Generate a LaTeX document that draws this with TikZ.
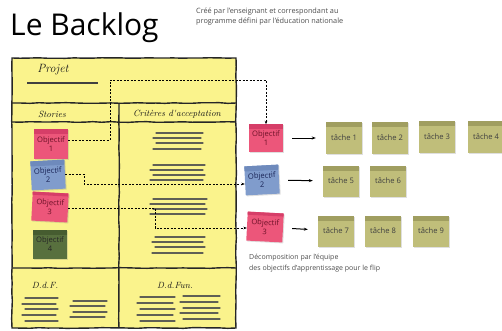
\documentclass[tikz,border=0pt]{standalone}
\usepackage{fontspec}
\setmainfont{Open Sans}
\newfontfamily\manuscrit{Latin Modern Roman}
\usetikzlibrary{arrows.meta,shadows,decorations.pathmorphing}

\definecolor{jaune}{RGB}{250,243,140}
\definecolor{rose}{RGB}{236,86,122}
\definecolor{rosefonce}{RGB}{214,62,104}
\definecolor{texterose}{RGB}{110,18,40}
\definecolor{bleu}{RGB}{128,156,204}
\definecolor{bleufonce}{RGB}{110,138,188}
\definecolor{textebleu}{RGB}{25,35,85}
\definecolor{vert}{RGB}{88,112,62}
\definecolor{vertfonce}{RGB}{70,92,48}
\definecolor{olive}{RGB}{192,190,122}
\definecolor{olivefonce}{RGB}{160,158,96}
\definecolor{trait}{RGB}{95,95,85}

\tikzset{
	postit/.style 2 args={fill=#1, minimum width=34pt, minimum height=29pt, inner sep=0pt,
		align=center, font=\fontsize{7.6}{9}\selectfont,
		drop shadow={shadow xshift=1pt, shadow yshift=-1pt, opacity=.25},
		path picture={\fill[#2] (path picture bounding box.north west) rectangle ([yshift=-5pt]path picture bounding box.north east);}},
	objrose/.style={postit={rose}{rosefonce}, text=texterose},
	objbleu/.style={postit={bleu}{bleufonce}, text=textebleu},
	objvert/.style={postit={vert}{vertfonce}, text=black!85},
	tache/.style={postit={olive}{olivefonce}, minimum width=36pt, minimum height=31pt, text=black!75},
	crayon/.style={black!85, line width=1.4pt, decorate, decoration={random steps, segment length=9pt, amplitude=.35pt}},
	ligne/.style={trait, line width=1.2pt, line cap=round},
	lien/.style={dashed, dash pattern=on 2pt off 1.5pt, line width=.9pt, -{Stealth[length=3.5pt]}},
	fleche/.style={line width=1pt, -{Stealth[length=4pt]}, shorten <=9pt, shorten >=10pt},
	manus/.style={font=\manuscrit\itshape\fontsize{#1}{#1}\selectfont, black!90}
}

\begin{document}
\begin{tikzpicture}[x=1pt, y=-1pt]
	\useasboundingbox (0,0) rectangle (502,331);

	% titre
	\node[anchor=base west, inner sep=0pt, font=\fontsize{30}{30}\selectfont] (titre) at (10,36) {Le Backlog};
	\node[anchor=base west, inner sep=0pt, align=left, text=black!70, font=\fontsize{7.3}{10}\selectfont] (auteur) at (196,24)
		{Créé par l'enseignant et correspondant au\\programme défini par l'éducation nationale};

	% tableau
	\fill[jaune] (12,58) rectangle (236,328);
	\draw[crayon] (12,58) rectangle (236,328);
	\draw[crayon] (12,103) -- (236,103);
	\draw[crayon] (12,122) -- (236,122);
	\draw[crayon] (119,103) -- (119,328);
	\draw[crayon] (12,268) -- (236,268);

	\node[manus=12] (projet) at (53,70) {Projet};
	\draw[line width=1.6pt, black!75] (27,83) -- (98,83);
	\node[manus=9] (stories) at (52,114) {Stories};
	\node[manus=9] (criteres) at (177,114) {Critères d'acceptation};
	\node[manus=9] (ddf) at (45,285) {D.d.F.};
	\node[manus=9] (ddfun) at (175,285) {D.d.Fun.};

	% lignes de texte
	\foreach \xa/\xb/\ys in {153/203/{133,138,143,149}, 150/205/{165,170,175,180},
		150/207/{199,204,209,214}, 152/205/{237,242,247,253},
		22/58/{298,304,309,315,321}, 70/107/{301,306,312,317},
		137/175/{297,303,309,315,321}, 180/220/{296,302,308,313,319}} {
		\foreach \y [count=\i] in \ys {
			\draw[ligne] ({\xa+mod(\i,2)*3},\y) -- ({\xb-mod(\i+1,2)*2},\y);
		}
	}

	% objectifs du tableau
	\node[objrose] (o1) at (51,144) {Objectif\\1};
	\node[objbleu, rotate=3] (o2) at (48,175) {Objectif\\2};
	\node[objrose, rotate=-3, minimum width=36pt] (o3) at (50,207) {Objectif\\3};
	\node[objvert] (o4) at (50,244) {Objectif\\4};

	% objectifs decomposes
	\node[objrose, minimum height=27pt] (d1) at (266,138) {Objectif\\1};
	\node[objbleu, rotate=3] (d2) at (262,180) {Objectif\\2};
	\node[objrose, rotate=-3, minimum width=36pt] (d3) at (265,227) {Objectif\\3};

	% taches
	\node[tache] (t1) at (344,138) {tâche 1};
	\node[tache] (t2) at (390,138) {tâche 2};
	\node[tache] (t3) at (437,137) {tâche 3};
	\node[tache] (t4) at (486,137) {tâche 4};
	\node[tache] (t5) at (341,181) {tâche 5};
	\node[tache] (t6) at (388,181) {tâche 6};
	\node[tache] (t7) at (336,231) {tâche 7};
	\node[tache] (t8) at (383,231) {tâche 8};
	\node[tache] (t9) at (431,231) {tâche 9};

	\draw[fleche] (d1) -- (t1);
	\draw[fleche] (d2) -- (t5);
	\draw[fleche] (d3) -- (t7);

	% liens pointilles
	\coordinate (c1) at (110,80);
	\coordinate (c2) at (84,184);
	\coordinate (c3) at (155,228);
	\draw[lien] ([yshift=4pt]o1.east) -| (c1) -| (d1.north);
	\draw[lien] (o2.east) -| (c2) -- (c2 -| d2.west);
	\draw[lien] (o3.east) -| (c3) -- (c3 -| d3.west);

	\node[anchor=base west, inner sep=0pt, align=left, text=black!70, font=\fontsize{7}{10.5}\selectfont] (legende) at (249,270)
		{Décomposition par l'équipe\\des objectifs d'apprentissage pour le flip};
\end{tikzpicture}
\end{document}
